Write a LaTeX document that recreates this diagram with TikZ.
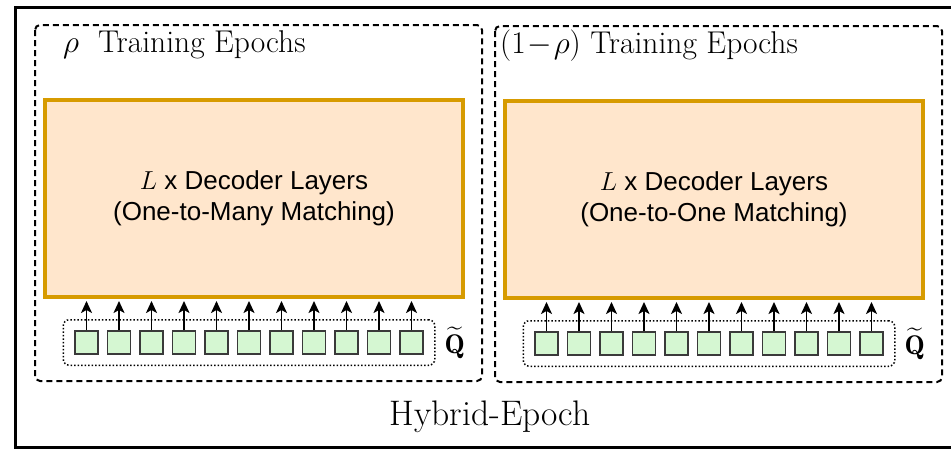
\RequirePackage{fix-cm}
\documentclass[tikz,border=0pt]{standalone}
\usepackage{amsmath,amssymb}
\usepackage{fontspec}
\newfontfamily\labelsans{Liberation Sans}
\usetikzlibrary{
	arrows.meta,
	positioning,
	fit
}
\definecolor{layerfill}{HTML}{FFE6CC}
\definecolor{layerdraw}{HTML}{D79B00}
\definecolor{queryfill}{HTML}{D5F7D2}
\definecolor{querydraw}{HTML}{3A3A3A}

\tikzset{
	layerbox/.style={draw=layerdraw, fill=layerfill, line width=4pt,
		minimum width=418pt, minimum height=197pt, inner sep=0pt,
		align=center, font=\labelsans\fontsize{26}{31}\selectfont},
	querybox/.style={draw=querydraw, fill=queryfill, line width=1.5pt,
		minimum size=23pt, inner sep=0pt},
	querygroup/.style={draw, dotted, line width=1.5pt, rounded corners=6pt,
		inner xsep=11pt, inner ysep=10.5pt},
	epochgroup/.style={draw, line width=2pt, dash pattern=on 6pt off 4pt,
		rounded corners=5pt},
	feed/.style={line width=1.8pt, shorten >=2pt,
		-{Stealth[length=12pt, width=11pt, inset=3pt]}},
	titletext/.style={anchor=base west, inner sep=0pt,
		font=\fontsize{31.5}{36}\selectfont}
}

\begin{document}
\begin{tikzpicture}[x=1pt, y=-1pt]
\useasboundingbox (0,0) rectangle (951,453);

% Define panel macro
% Arguments: name, x-shift, y-shift, title-x, title, matching
\def\epochpanel#1#2#3#4#5#6{
    \begin{scope}[shift={(#2,#3)}]
    % Dashed group and title
    \draw[epochgroup] (35,25) rectangle (482,381);
    \node[titletext] (#1title) at (#4,52) {#5};

    % Decoder layers
    \node[layerbox] (#1box) at (254,198.5)
        {$L$\ x Decoder Layers\\(#6 Matching)};

    % Queries
    \foreach \i in {0,...,10}
        \node[querybox] (#1q\i) at ({86.5+32.5*\i},342.5) {};
    \node[querygroup, fit=(#1q0)(#1q10)] (#1group) {};
    \node[inner sep=0pt, right=9pt of #1group, font=\fontsize{27}{30}\selectfont]
        (#1label) {$\widetilde{\mathbf{Q}}$};

    % Query arrows
    \foreach \i in {0,...,10}
        \draw[feed] (#1q\i.north) -- (#1q\i.north |- #1box.south);
    \end{scope}
}

% Outer frame
\draw[line width=3pt] (15,7) rectangle (965,447);

% Two stages
\epochpanel{l}{0}{0}{63}{$\rho$\ \ Training Epochs}{One-to-Many}
\epochpanel{r}{460}{1}{40}{$(1\!-\!\rho)$ Training Epochs}{One-to-One}

% Caption
\node[anchor=base, inner sep=0pt, font=\fontsize{35.5}{40}\selectfont]
    (caption) at (490,425) {Hybrid-Epoch};

\end{tikzpicture}
\end{document}
